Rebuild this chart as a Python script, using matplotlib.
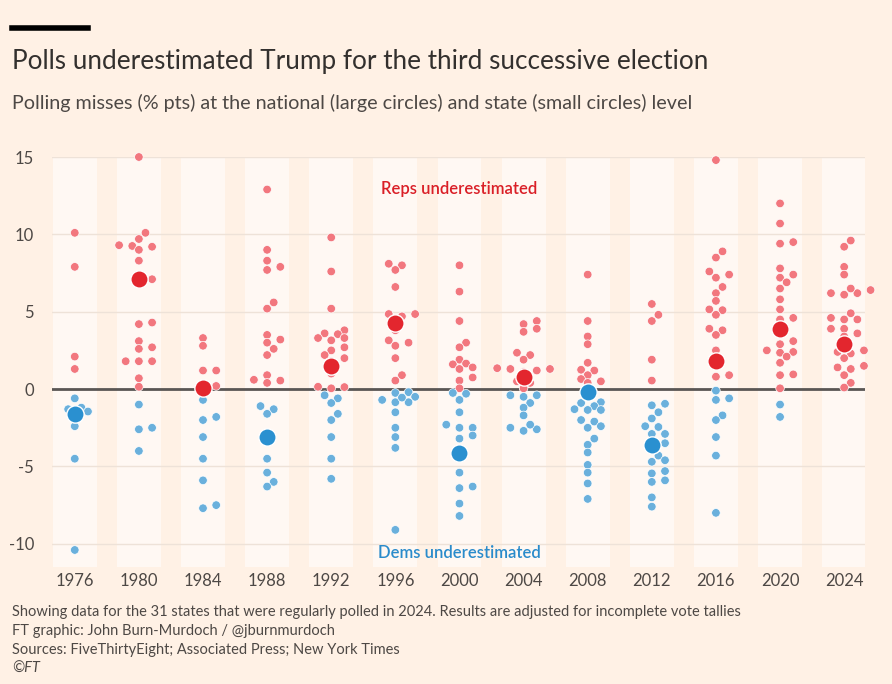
import numpy as np
import matplotlib
matplotlib.use("Agg")
import matplotlib.pyplot as plt

plt.rcParams['font.family'] = ['Lato', 'DejaVu Sans']

# Data
years = [1976, 1980, 1984, 1988, 1992, 1996, 2000, 2004, 2008, 2012, 2016, 2020, 2024]
national = [-1.6, 7.1, 0.1, -3.1, 1.5, 4.3, -4.1, 0.8, -0.2, -3.6, 1.8, 3.9, 2.9]

s1976 = [10.1, 7.9, 2.1, 1.3, -0.6, -1.2, -1.3, -1.6, -1.45, -2.4, -4.5, -10.4]
s1980 = [15.0, 10.1, 9.7, 9.3, 9.25, 9.0, 9.2, 8.3, 7.1, 7.0, 4.3, 4.2, 3.1, 2.7, 2.6,
         1.8, 1.8, 1.8, 0.7, 0.15, -1.0, -2.5, -2.6, -4.0]
s1984 = [3.3, 2.8, 1.2, 1.2, 0.1, 0.2, -0.7, -1.8, -2.0, -3.1, -4.5, -5.9, -7.5, -7.7]
s1988 = [12.9, 9.0, 8.3, 7.9, 7.7, 5.6, 5.2, 3.5, 3.2, 3.0, 2.6, 2.2, 0.9, 0.6, 0.55,
         0.4, -1.1, -1.3, -1.6, -4.5, -5.4, -6.0, -6.3]
s1992 = [9.8, 7.6, 5.2, 3.8, 3.6, 3.3, 3.55, 3.3, 3.15, 2.5, 2.7, 2.2, 2.0, 1.8, 1.0,
         0.05, 0.15, 0.13, -0.6, -0.4, -0.9, -1.6, -2.0, -3.1, -4.5, -5.8]
s1996 = [8.1, 8.0, 7.7, 6.6, 4.7, 4.85, 4.85, 4.4, 3.8, 3.15, 3.0, 2.8, 2.0, 0.9, 0.55,
         -0.2, -0.25, -0.5, -0.85, -0.85, -0.7, -0.55, -1.5, -2.5, -3.1, -3.8, -9.1]
s2000 = [8.0, 6.3, 4.4, 3.0, 2.7, 1.9, 1.6, 1.65, 1.4, 1.3, 0.75, 0.55, 0.05,
         -0.25, -0.3, -0.7, -1.5, -2.3, -2.5, -2.5, -3.0, -3.2, -5.4, -6.3, -6.4,
         -7.4, -8.2]
s2004 = [4.4, 3.9, 4.2, 3.7, 2.2, 2.35, 1.9, 1.2, 1.1, 1.3, 1.3, 1.35, 0.5, 0.4, 0.05,
         -0.5, -0.4, -0.4, -0.9, -1.2, -1.7, -2.6, -2.5, -2.7, -2.3]
s2008 = [7.4, 4.4, 3.4, 2.9, 1.7, 1.2, 1.25, 0.9, 0.65, 0.4, 0.5,
         -0.9, -0.85, -1.1, -1.35, -1.3, -1.35, -2.1, -2.0, -2.5, -2.4, -3.2, -3.6,
         -4.1, -4.9, -5.4, -6.1, -7.1]
s2012 = [5.5, 4.8, 4.4, 1.9, 0.55, -0.95, -1.05, -1.5, -1.9, -2.4, -2.45, -2.9, -2.9,
         -3.5, -3.7, -4.3, -4.7, -4.6, -5.3, -5.45, -6.0, -5.9, -7.0, -7.6]
s2016 = [14.8, 8.9, 8.5, 7.6, 7.4, 7.2, 6.6, 6.2, 5.7, 5.15, 5.1, 4.8, 3.9, 3.8, 3.5,
         2.5, 2.0, 0.8, 0.9, -0.1, -0.7, -0.6, -1.7, -2.0, -3.1, -4.3, -8.0]
s2020 = [12.0, 10.7, 9.4, 9.5, 7.8, 7.4, 7.2, 6.9, 6.5, 5.8, 5.15, 4.5, 4.6, 3.75,
         3.1, 2.9, 2.4, 2.5, 2.35, 2.1, 1.7, 0.95, 0.9, 0.05, -1.0, -1.8]
s2024 = [9.6, 9.2, 7.9, 7.4, 6.2, 6.2, 6.1, 6.4, 6.5, 4.9, 4.5, 4.5, 4.6, 3.9, 3.9,
         3.6, 3.4, 2.8, 2.3, 2.5, 2.4, 2.0, 1.4, 1.5, 1.3, 0.9, 0.4, 0.1]
states = [s1976, s1980, s1984, s1988, s1992, s1996, s2000, s2004, s2008, s2012,
          s2016, s2020, s2024]

BG = '#FFF1E5'
BAND = '#FFF8F3'
RED_S, RED_L = '#F2777E', '#E3262E'
BLUE_S, BLUE_L = '#6AB0DC', '#2A90D0'
TXT = '#4D4845'


def swarm(vals, px_y, dist, step):
    """Simple beeswarm: pixel x offsets for each value."""
    placed = []
    offs = np.zeros(len(vals))
    for i in np.argsort(vals):
        y = vals[i] * px_y
        k = 0
        while True:
            cands = [0.0] if k == 0 else [k * step, -k * step]
            hit = None
            for c in cands:
                if all((c - px) ** 2 + (y - py) ** 2 >= dist ** 2 for px, py in placed):
                    hit = c
                    break
            if hit is not None:
                break
            k += 1
        placed.append((hit, y))
        offs[i] = hit
    return offs


fig = plt.figure(figsize=(8.92, 6.84), dpi=100)
fig.patch.set_facecolor(BG)
ax = fig.add_axes([52 / 892, 117 / 684, 813 / 892, 410 / 684])
ax.set_facecolor(BG)
ax.set_xlim(1974.58, 2025.30)
ax.set_ylim(-11.5, 15)

for y in years:
    ax.axvspan(y - 1.37, y + 1.37, color=BAND, zorder=0, lw=0)
for g in [-10, -5, 5, 10, 15]:
    ax.axhline(g, color='#EEE2D8', lw=1, zorder=0.5)
ax.axhline(0, color='#5A5654', lw=2, zorder=1)

fig.canvas.draw()
o = ax.transData.transform((0, 0))
px_x = ax.transData.transform((1, 0))[0] - o[0]
px_y = ax.transData.transform((0, 1))[1] - o[1]

for y, vals, nat in zip(years, states, national):
    vals = np.array(vals)
    dx = swarm(vals, px_y, 7.4, 6.6) / px_x
    cols = np.where(vals >= 0, RED_S, BLUE_S)
    ax.scatter(y + dx, vals, s=38, c=cols, edgecolors='white', linewidths=0.5,
               zorder=3, clip_on=False)
    ax.scatter([y], [nat], s=155, c=RED_L if nat >= 0 else BLUE_L,
               edgecolors='white', linewidths=1, zorder=4, clip_on=False)

ax.text(2000, 12.9, 'Reps underestimated', color='#DA1F27', fontsize=12,
        fontweight='semibold', ha='center', va='center', zorder=5)
ax.text(2000, -10.6, 'Dems underestimated', color='#2A8BCB', fontsize=12,
        fontweight='semibold', ha='center', va='center', zorder=5)

ax.set_xticks(years)
ax.set_xticklabels([str(y) for y in years])
ax.set_yticks([-10, -5, 0, 5, 10, 15])
ax.set_yticklabels(['-10', '-5', '0', '5', '10', '15'])
ax.tick_params(axis='both', length=0, labelsize=12, labelcolor=TXT)
ax.tick_params(axis='y', pad=13)
ax.tick_params(axis='x', pad=4)
for sp in ax.spines.values():
    sp.set_visible(False)

fig.add_artist(plt.Line2D([12 / 892, 88 / 892], [1 - 28 / 684, 1 - 28 / 684],
                          color='black', lw=4, transform=fig.transFigure))
fig.text(12 / 892, 1 - 61 / 684, 'Polls underestimated Trump for the third successive election',
         fontsize=18.8, color='#33302E', va='center')
fig.text(12 / 892, 1 - 103 / 684,
         'Polling misses (% pts) at the national (large circles) and state (small circles) level',
         fontsize=14.2, color=TXT, va='center')
foot = ['Showing data for the 31 states that were regularly polled in 2024. '
        'Results are adjusted for incomplete vote tallies',
        'FT graphic: John Burn-Murdoch / @jburnmurdoch',
        'Sources: FiveThirtyEight; Associated Press; New York Times',
        '©FT']
for i, line in enumerate(foot):
    fig.text(12 / 892, 1 - (612 + 19 * i) / 684, line, fontsize=10.5,
             color=TXT, va='center', style='italic' if line == '©FT' else 'normal')

fig.savefig('out.png', dpi=100, facecolor=BG)
